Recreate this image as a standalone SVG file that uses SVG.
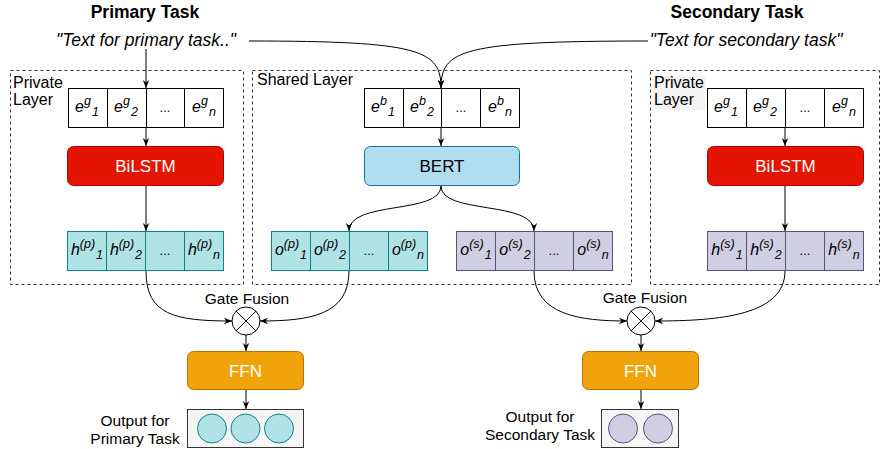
<svg xmlns="http://www.w3.org/2000/svg" width="881" height="449" viewBox="0 0 881 449">
<style>
text{font-family:"Liberation Sans",Arial,sans-serif;fill:#000}
.title{font-size:17.5px;font-weight:bold;text-anchor:middle}
.quote{font-size:17.5px;font-style:italic;text-anchor:middle}
.lbl{font-size:15.5px}
.lay{font-size:16px}
.mid{text-anchor:middle}
.cell{font-size:16px;font-style:italic;text-anchor:middle}
.s{font-size:12.5px}
.dots{font-size:13px;text-anchor:middle}
.dash{fill:none;stroke:#333;stroke-width:1;stroke-dasharray:3 3}
.emb{fill:#fff;stroke:#000;stroke-width:1}
.teal{fill:#b0e3e6;stroke:#0e8088;stroke-width:1}
.purp{fill:#d0cee2;stroke:#56517e;stroke-width:1}
.red{fill:#e51400;stroke:#b20000;stroke-width:1}
.blue{fill:#b1ddf0;stroke:#10739e;stroke-width:1}
.orange{fill:#f0a30a;stroke:#bd7000;stroke-width:1}
.out{fill:#f5f5f5;stroke:#333;stroke-width:1}
.btxt{font-size:17px;text-anchor:middle}
.white{fill:#fff}
.edge{fill:none;stroke:#000;stroke-width:1;marker-end:url(#arr)}
.line{fill:none;stroke:#000;stroke-width:1}
.gate{fill:#fff;stroke:#000;stroke-width:1}
</style>
<defs>
<marker id="arr" viewBox="0 0 10 10" refX="10" refY="5" markerWidth="8" markerHeight="8" orient="auto" markerUnits="userSpaceOnUse">
<path d="M0,1 L10,5 L0,9 L3,5 z" fill="#000"/>
</marker>
</defs>

<g id="titles">
<text class="title" x="145" y="18">Primary Task</text>
<text class="title" x="737" y="18">Secondary Task</text>
<text class="quote" x="146" y="46">"Text for primary task.."</text>
<text class="quote" x="746" y="46">"Text for secondary task"</text>
</g>

<g id="private-left">
<rect class="dash" x="10.5" y="70.5" width="233" height="214"/>
<text class="lay" x="13" y="88">Private</text>
<text class="lay" x="13" y="105">Layer</text>
</g>
<g id="shared-layer">
<rect class="dash" x="252.5" y="70.5" width="379" height="214"/>
<text class="lay" x="257" y="85">Shared Layer</text>
</g>
<g id="private-right">
<rect class="dash" x="650.5" y="70.5" width="229" height="214"/>
<rect x="653" y="76" width="53" height="34" fill="#f4f4f4"/>
<text class="lay" x="654" y="88">Private</text>
<text class="lay" x="654" y="105">Layer</text>
</g>

<g id="emb-left">
<rect class="emb" x="68.5" y="88.5" width="39" height="39"/>
<rect class="emb" x="107.5" y="88.5" width="39" height="39"/>
<rect class="emb" x="146.5" y="88.5" width="38" height="39"/>
<rect class="emb" x="184.5" y="88.5" width="39" height="39"/>
<text class="cell" x="87" y="112">e<tspan class="s" dy="-7">g</tspan><tspan class="s" dy="11" dx="1">1</tspan></text>
<text class="cell" x="126" y="112">e<tspan class="s" dy="-7">g</tspan><tspan class="s" dy="11" dx="1">2</tspan></text>
<text class="dots" x="165" y="112">...</text>
<text class="cell" x="204" y="112">e<tspan class="s" dy="-7">g</tspan><tspan class="s" dy="11" dx="1">n</tspan></text>
</g>

<g id="emb-shared">
<rect class="emb" x="364.5" y="88.5" width="39" height="39"/>
<rect class="emb" x="403.5" y="88.5" width="38" height="39"/>
<rect class="emb" x="441.5" y="88.5" width="39" height="39"/>
<rect class="emb" x="480.5" y="88.5" width="39" height="39"/>
<text class="cell" x="383" y="112">e<tspan class="s" dy="-7">b</tspan><tspan class="s" dy="11" dx="1">1</tspan></text>
<text class="cell" x="422" y="112">e<tspan class="s" dy="-7">b</tspan><tspan class="s" dy="11" dx="1">2</tspan></text>
<text class="dots" x="461" y="112">...</text>
<text class="cell" x="500" y="112">e<tspan class="s" dy="-7">b</tspan><tspan class="s" dy="11" dx="1">n</tspan></text>
</g>

<g id="emb-right">
<rect class="emb" x="707.5" y="88.5" width="39" height="39"/>
<rect class="emb" x="746.5" y="88.5" width="39" height="39"/>
<rect class="emb" x="785.5" y="88.5" width="39" height="39"/>
<rect class="emb" x="824.5" y="88.5" width="39" height="39"/>
<text class="cell" x="726" y="112">e<tspan class="s" dy="-7">g</tspan><tspan class="s" dy="11" dx="1">1</tspan></text>
<text class="cell" x="765" y="112">e<tspan class="s" dy="-7">g</tspan><tspan class="s" dy="11" dx="1">2</tspan></text>
<text class="dots" x="805" y="112">...</text>
<text class="cell" x="844" y="112">e<tspan class="s" dy="-7">g</tspan><tspan class="s" dy="11" dx="1">n</tspan></text>
</g>

<g id="bilstm-left">
<rect class="red" x="67.5" y="146.5" width="156" height="39" rx="6"/>
<text class="btxt white" x="145.5" y="172">BiLSTM</text>
</g>
<g id="bert">
<rect class="blue" x="364.5" y="146.5" width="155" height="39" rx="6"/>
<text class="btxt" x="442" y="172">BERT</text>
</g>
<g id="bilstm-right">
<rect class="red" x="707.5" y="146.5" width="156" height="39" rx="6"/>
<text class="btxt white" x="785.5" y="172">BiLSTM</text>
</g>

<g id="h-p">
<rect class="teal" x="67.5" y="231.5" width="39" height="39"/>
<rect class="teal" x="106.5" y="231.5" width="39" height="39"/>
<rect class="teal" x="145.5" y="231.5" width="39" height="39"/>
<rect class="teal" x="184.5" y="231.5" width="39" height="39"/>
<text class="cell" x="87" y="255">h<tspan class="s" dy="-7">(p)</tspan><tspan class="s" dy="11" dx="1">1</tspan></text>
<text class="cell" x="126" y="255">h<tspan class="s" dy="-7">(p)</tspan><tspan class="s" dy="11" dx="1">2</tspan></text>
<text class="dots" x="165" y="255">...</text>
<text class="cell" x="204" y="255">h<tspan class="s" dy="-7">(p)</tspan><tspan class="s" dy="11" dx="1">n</tspan></text>
</g>

<g id="o-p">
<rect class="teal" x="271.5" y="231.5" width="39" height="39"/>
<rect class="teal" x="310.5" y="231.5" width="39" height="39"/>
<rect class="teal" x="349.5" y="231.5" width="39" height="39"/>
<rect class="teal" x="388.5" y="231.5" width="39" height="39"/>
<text class="cell" x="291" y="255">o<tspan class="s" dy="-7">(p)</tspan><tspan class="s" dy="11" dx="1">1</tspan></text>
<text class="cell" x="330" y="255">o<tspan class="s" dy="-7">(p)</tspan><tspan class="s" dy="11" dx="1">2</tspan></text>
<text class="dots" x="369" y="255">...</text>
<text class="cell" x="408" y="255">o<tspan class="s" dy="-7">(p)</tspan><tspan class="s" dy="11" dx="1">n</tspan></text>
</g>

<g id="o-s">
<rect class="purp" x="456.5" y="231.5" width="39" height="39"/>
<rect class="purp" x="495.5" y="231.5" width="39" height="39"/>
<rect class="purp" x="534.5" y="231.5" width="39" height="39"/>
<rect class="purp" x="573.5" y="231.5" width="39" height="39"/>
<text class="cell" x="476" y="255">o<tspan class="s" dy="-7">(s)</tspan><tspan class="s" dy="11" dx="1">1</tspan></text>
<text class="cell" x="515" y="255">o<tspan class="s" dy="-7">(s)</tspan><tspan class="s" dy="11" dx="1">2</tspan></text>
<text class="dots" x="554" y="255">...</text>
<text class="cell" x="593" y="255">o<tspan class="s" dy="-7">(s)</tspan><tspan class="s" dy="11" dx="1">n</tspan></text>
</g>

<g id="h-s">
<rect class="purp" x="707.5" y="231.5" width="39" height="39"/>
<rect class="purp" x="746.5" y="231.5" width="39" height="39"/>
<rect class="purp" x="785.5" y="231.5" width="39" height="39"/>
<rect class="purp" x="824.5" y="231.5" width="39" height="39"/>
<text class="cell" x="727" y="255">h<tspan class="s" dy="-7">(s)</tspan><tspan class="s" dy="11" dx="1">1</tspan></text>
<text class="cell" x="766" y="255">h<tspan class="s" dy="-7">(s)</tspan><tspan class="s" dy="11" dx="1">2</tspan></text>
<text class="dots" x="805" y="255">...</text>
<text class="cell" x="844" y="255">h<tspan class="s" dy="-7">(s)</tspan><tspan class="s" dy="11" dx="1">n</tspan></text>
</g>

<g id="gate-left">
<text class="lbl mid" x="247" y="304">Gate Fusion</text>
<circle class="gate" cx="246" cy="321" r="14"/>
<path class="line" d="M236.1,311.1 L255.9,330.9 M255.9,311.1 L236.1,330.9"/>
</g>
<g id="gate-right">
<text class="lbl mid" x="645" y="303">Gate Fusion</text>
<circle class="gate" cx="641" cy="321" r="14"/>
<path class="line" d="M631.1,311.1 L650.9,330.9 M650.9,311.1 L631.1,330.9"/>
</g>

<g id="ffn-left">
<rect class="orange" x="187.5" y="351.5" width="116" height="38" rx="6"/>
<text class="btxt white" x="245.5" y="377">FFN</text>
</g>
<g id="ffn-right">
<rect class="orange" x="582.5" y="351.5" width="116" height="38" rx="6"/>
<text class="btxt white" x="640.5" y="377">FFN</text>
</g>

<g id="output-left">
<rect class="out" x="187.5" y="409.5" width="116" height="38"/>
<circle class="teal" cx="212" cy="428.5" r="14.5"/>
<circle class="teal" cx="245.5" cy="428.5" r="14.5"/>
<circle class="teal" cx="279" cy="428.5" r="14.5"/>
<text class="lbl mid" x="135" y="426">Output for</text>
<text class="lbl mid" x="135" y="444">Primary Task</text>
</g>
<g id="output-right">
<rect class="out" x="601.5" y="409.5" width="77" height="38"/>
<circle class="purp" cx="623" cy="428.5" r="14.5"/>
<circle class="purp" cx="658" cy="428.5" r="14.5"/>
<text class="lbl mid" x="540" y="422">Output for</text>
<text class="lbl mid" x="540" y="440">Secondary Task</text>
</g>

<g id="connectors">
<path class="edge" d="M146,49 L146,88"/>
<path class="edge" d="M249,41 C420,41 441,50 441,88"/>
<path class="edge" d="M648,41 C462,41 441,50 441,88"/>
<path class="edge" d="M146,128 L146,146"/>
<path class="edge" d="M146,186 L146,231"/>
<path class="edge" d="M441,128 L441,146"/>
<path class="edge" d="M441,186 C441,215 349,200 349,231"/>
<path class="edge" d="M441,186 C441,215 534,200 534,231"/>
<path class="edge" d="M785,128 L785,146"/>
<path class="edge" d="M785,186 L785,231"/>
<path class="edge" d="M146,271 C146,315 175,321 232,321"/>
<path class="edge" d="M349,271 C349,315 310,321 260,321"/>
<path class="edge" d="M534,271 C534,315 580,321 627,321"/>
<path class="edge" d="M785,271 C785,315 720,321 655,321"/>
<path class="edge" d="M246,335 L246,351"/>
<path class="edge" d="M246,390 L246,409"/>
<path class="edge" d="M641,335 L641,351"/>
<path class="edge" d="M641,390 L641,409"/>
</g>
</svg>
